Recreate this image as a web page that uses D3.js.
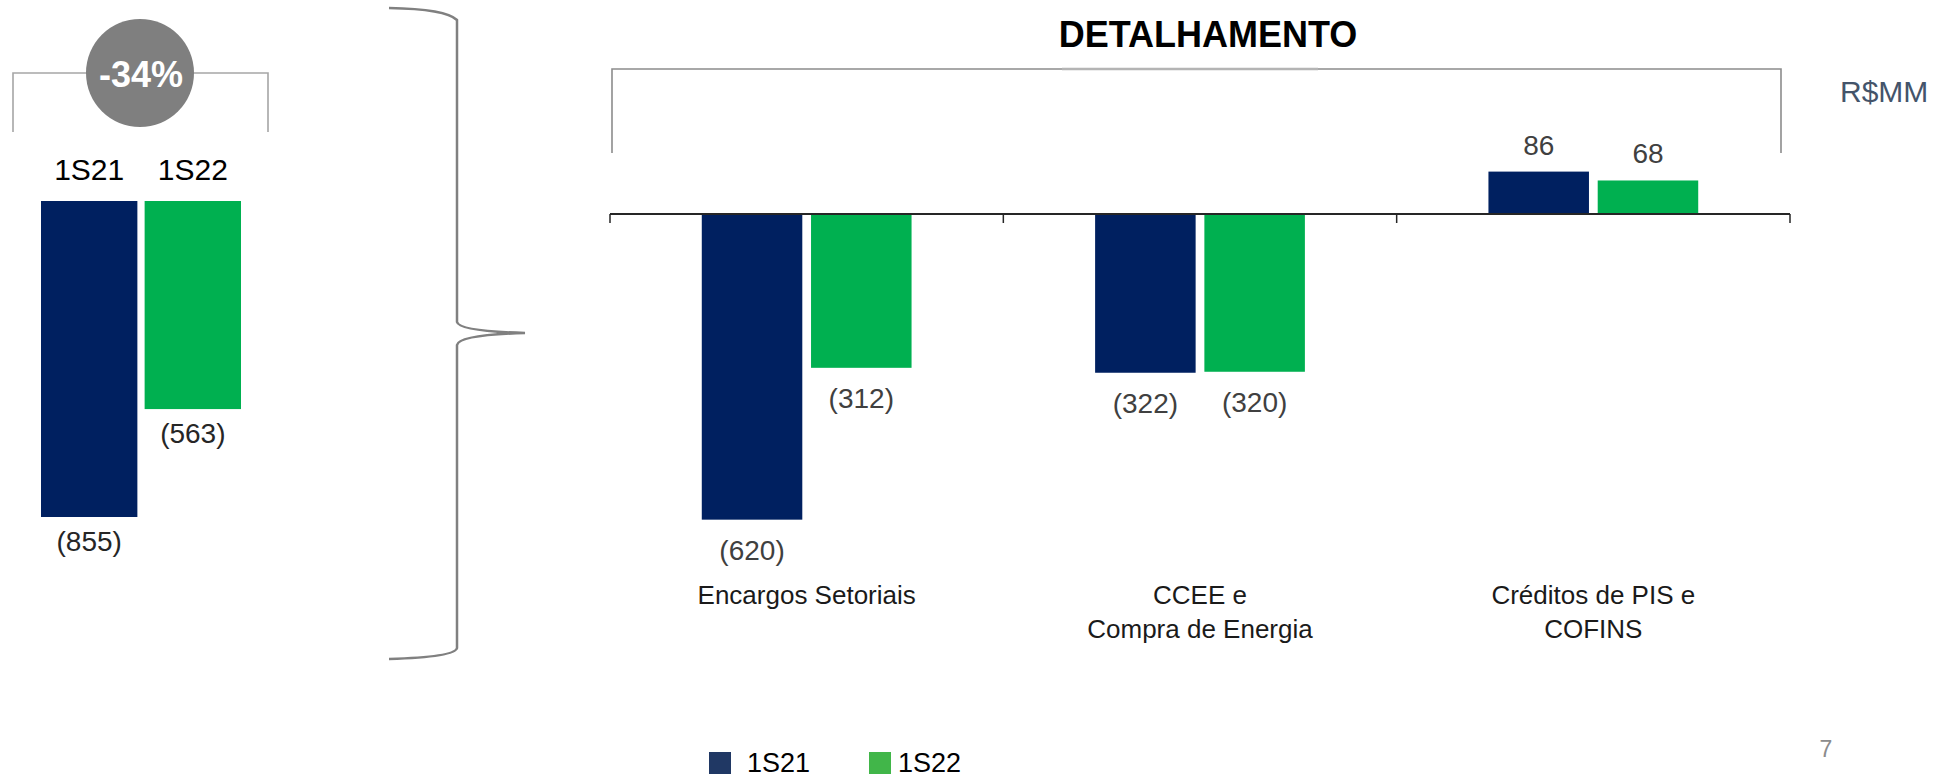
<!DOCTYPE html>
<html>
<head>
<meta charset="utf-8">
<script src="https://cdn.jsdelivr.net/npm/d3@7"></script>
<style>
  html, body { margin: 0; padding: 0; background: #fff; }
  svg text { font-family: "Liberation Sans", Arial, sans-serif; }
</style>
</head>
<body>
<div id="chart"></div>
<script>
// data
var series = ["1S21", "1S22"]
var totals = [-855, -563]
var change_label = "-34%"

var categories = ["Encargos Setoriais", "CCEE e\nCompra de Energia", "Créditos de PIS e\nCOFINS"]
var values_1s21 = [-620, -322, 86]
var values_1s22 = [-312, -320, 68]

var title = "DETALHAMENTO"
var unit_label = "R$MM"
var page_number = "7"

var colors = {"1S21": "#002060", "1S22": "#00b050"}
var legend_colors = {"1S21": "#203864", "1S22": "#41b649"}

function fmt(v) {
    return v < 0 ? "(" + Math.abs(v) + ")" : String(v)
}

function create_vis() {
    return d3.select("#chart").append("svg").attr("width", 1940).attr("height", 777)
}

function draw_total(svg) {
    var x = d3.scaleBand().domain(series).range([41, 241]).paddingInner(0.07)
    var y = d3.scaleLinear().domain([0, -855]).range([201, 517])

    var g = svg.append("g")

    // bracket with the change bubble
    g.append("path")
        .attr("d", "M13,132 L13,73 L268,73 L268,132")
        .attr("fill", "none").attr("stroke", "#a6a6a6").attr("stroke-width", 1.6)
    g.append("circle").attr("cx", 140).attr("cy", 73).attr("r", 54).attr("fill", "#7f7f7f")
    g.append("text").attr("x", 141).attr("y", 87)
        .attr("text-anchor", "middle").attr("font-size", 36).attr("font-weight", "bold")
        .attr("fill", "#fff").text(change_label)

    var data = series.map((s, i) => ({"key": s, "value": totals[i]}))

    g.selectAll("text.head").data(data).enter().append("text")
        .attr("class", "head")
        .attr("x", d => x(d.key) + x.bandwidth() / 2)
        .attr("y", 180)
        .attr("text-anchor", "middle").attr("font-size", 30).attr("fill", "#000")
        .text(d => d.key)

    g.selectAll("rect").data(data).enter().append("rect")
        .attr("x", d => x(d.key))
        .attr("y", y(0))
        .attr("width", x.bandwidth())
        .attr("height", d => y(d.value) - y(0))
        .attr("fill", d => colors[d.key])

    g.selectAll("text.val").data(data).enter().append("text")
        .attr("class", "val")
        .attr("x", d => x(d.key) + x.bandwidth() / 2)
        .attr("y", d => y(d.value) + 34)
        .attr("text-anchor", "middle").attr("font-size", 28).attr("fill", "#262626")
        .text(d => fmt(d.value))
}

function draw_brace(svg) {
    svg.append("path")
        .attr("d", "M389,8 Q446,9 457,20 L457,322 Q459,331 525,333 Q459,335 457,345 L457,648 Q455,657 389,659")
        .attr("fill", "none").attr("stroke", "#808080").attr("stroke-width", 2.5)
}

function draw_detail(svg) {
    var x = d3.scaleBand().domain(categories).range([610, 1790])
    var xs = d3.scaleBand().domain(series).range([0, x.bandwidth()]).paddingInner(0.08).paddingOuter(0.84)
    var y = d3.scaleLinear().domain([-700, 100]).range([214 + 700 * 0.493, 214 - 100 * 0.493])

    var g = svg.append("g")

    g.append("text").attr("x", 1208).attr("y", 47)
        .attr("text-anchor", "middle").attr("font-size", 36).attr("font-weight", "bold")
        .attr("fill", "#000").text(title)

    // bracket over the detail
    g.append("path")
        .attr("d", "M612,153 L612,69 L1781,69 L1781,153")
        .attr("fill", "none").attr("stroke", "#8c8c8c").attr("stroke-width", 1.6)
    g.append("line").attr("x1", 1062).attr("x2", 1318).attr("y1", 69).attr("y2", 69)
        .attr("stroke", "#b4b4b4").attr("stroke-width", 2.4)

    g.append("text").attr("x", 1840).attr("y", 102)
        .attr("font-size", 30).attr("fill", "#44546a").text(unit_label)

    var data = []
    categories.forEach((c, i) => {
        data.push({"cat": c, "key": "1S21", "value": values_1s21[i]})
        data.push({"cat": c, "key": "1S22", "value": values_1s22[i]})
    })

    g.selectAll("rect").data(data).enter().append("rect")
        .attr("x", d => x(d.cat) + xs(d.key))
        .attr("y", d => Math.min(y(d.value), y(0)))
        .attr("width", xs.bandwidth())
        .attr("height", d => Math.abs(y(d.value) - y(0)))
        .attr("fill", d => colors[d.key])

    // zero line with ticks at category edges
    var edges = categories.map(c => x(c)).concat([x(categories[categories.length - 1]) + x.bandwidth()])
    g.append("line").attr("x1", edges[0]).attr("x2", edges[edges.length - 1])
        .attr("y1", y(0)).attr("y2", y(0)).attr("stroke", "#262626").attr("stroke-width", 2)
    g.selectAll("line.tick").data(edges).enter().append("line")
        .attr("class", "tick")
        .attr("x1", d => d).attr("x2", d => d)
        .attr("y1", y(0)).attr("y2", y(0) + 9)
        .attr("stroke", "#262626").attr("stroke-width", 1.5)

    g.selectAll("text.val").data(data).enter().append("text")
        .attr("class", "val")
        .attr("x", d => x(d.cat) + xs(d.key) + xs.bandwidth() / 2)
        .attr("y", d => d.value < 0 ? y(d.value) + 40 : y(d.value) - 17)
        .attr("text-anchor", "middle").attr("font-size", 28).attr("fill", "#404040")
        .text(d => fmt(d.value))

    var lab = g.selectAll("text.cat").data(categories).enter().append("text")
        .attr("class", "cat")
        .attr("x", d => x(d) + x.bandwidth() / 2)
        .attr("y", 604)
        .attr("text-anchor", "middle").attr("font-size", 26).attr("fill", "#1a1a1a")
    lab.selectAll("tspan").data(d => d.split("\n")).enter().append("tspan")
        .attr("x", function() { return d3.select(this.parentNode).attr("x") })
        .attr("dy", (d, i) => i == 0 ? 0 : 34)
        .text(d => d)
}

function draw_legend(svg) {
    var lx = d3.scaleOrdinal().domain(series).range([709, 869])
    var g = svg.append("g")
    g.selectAll("rect").data(series).enter().append("rect")
        .attr("x", d => lx(d)).attr("y", 752).attr("width", 22).attr("height", 22)
        .attr("fill", d => legend_colors[d])
    g.selectAll("text").data(series).enter().append("text")
        .attr("x", (d, i) => lx(d) + (i == 0 ? 38 : 29)).attr("y", 772)
        .attr("font-size", 27).attr("fill", "#000")
        .text(d => d)

    svg.append("text").attr("x", 1826).attr("y", 757).attr("text-anchor", "middle")
        .attr("font-size", 23).attr("fill", "#8c8c8c").text(page_number)
}

var vis = create_vis()
draw_total(vis)
draw_brace(vis)
draw_detail(vis)
draw_legend(vis)
</script>
</body>
</html>
